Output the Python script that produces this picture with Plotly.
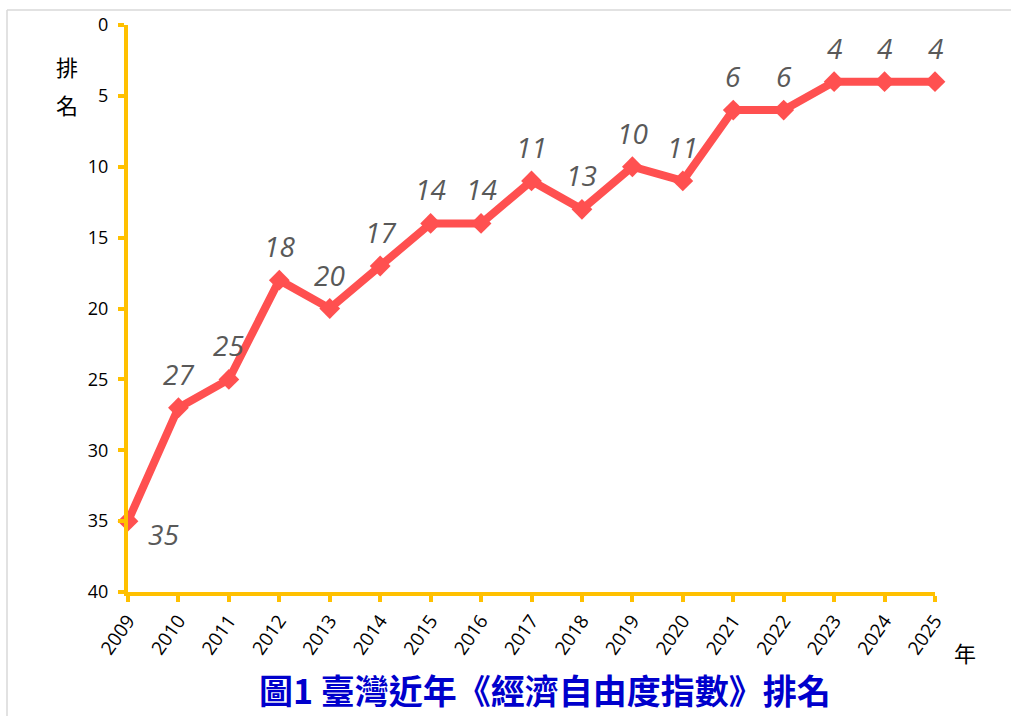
import plotly.graph_objects as go

years = [str(y) for y in range(2009, 2026)]
ranks = [35, 27, 25, 18, 20, 17, 14, 14, 11, 13, 10, 11, 6, 6, 4, 4, 4]
y_ticks = [0, 5, 10, 15, 20, 25, 30, 35, 40]

L, R, T, B = 128, 76, 25, 124
W, H = 1011, 716
pw, ph = W - L - R, H - T - B

def px(x):
    return (x - L) / pw

def py(y):
    return (H - B - y) / ph

fig = go.Figure()
fig.add_trace(go.Scatter(
    x=years, y=ranks, mode="lines+markers",
    line=dict(color="#FF5050", width=8),
    marker=dict(symbol="diamond", size=16, color="#FF5050"),
    cliponaxis=False, hoverinfo="skip", showlegend=False,
))

label_font = dict(family="Open Sans", size=28, color="#595959")
annotations = []
for i, r in enumerate(ranks):
    # category axis: annotation x given as the category's serial index
    if i == 0:
        annotations.append(dict(x=i, y=r, xref="x", yref="y", text="<i>%d</i>" % r,
                                showarrow=False, font=label_font,
                                xshift=35, yshift=-13, xanchor="center", yanchor="middle"))
    else:
        annotations.append(dict(x=i, y=r, xref="x", yref="y", text="<i>%d</i>" % r,
                                showarrow=False, font=label_font,
                                yshift=34, xanchor="center", yanchor="middle"))

axis_common = dict(showline=True, linecolor="#FFC000", linewidth=4,
                   ticks="outside", tickcolor="#FFC000", tickwidth=4, ticklen=6,
                   showgrid=False, zeroline=False)

annotations += [
    dict(text="排", xref="paper", yref="paper", x=px(67), y=py(66),
         showarrow=False, font=dict(family="Noto Sans CJK TC", size=22, color="#000000"),
         xanchor="center", yanchor="middle"),
    dict(text="名", xref="paper", yref="paper", x=px(67), y=py(104),
         showarrow=False, font=dict(family="Noto Sans CJK TC", size=22, color="#000000"),
         xanchor="center", yanchor="middle"),
    dict(text="年", xref="paper", yref="paper", x=px(965), y=py(652),
         showarrow=False, font=dict(family="Noto Sans CJK TC", size=22, color="#000000"),
         xanchor="center", yanchor="middle"),
    dict(text="<b>圖1 臺灣近年《經濟自由度指數》排名</b>", xref="paper", yref="paper",
         x=px(545), y=py(690), showarrow=False,
         font=dict(family="Noto Sans CJK TC", size=34, color="#0000CC"),
         xanchor="center", yanchor="middle"),
]

fig.update_layout(
    width=W, height=H,
    margin=dict(l=L, r=R, t=T, b=B),
    paper_bgcolor="white", plot_bgcolor="white",
    xaxis=dict(type="category", range=[0, len(years) - 1], tickangle=-55,
               tickfont=dict(family="Open Sans", size=19, color="#000000"), **axis_common),
    yaxis=dict(range=[40, 0], tickvals=y_ticks, ticklabelstandoff=6,
               tickfont=dict(family="Open Sans", size=18, color="#000000"), **axis_common),
    shapes=[
        dict(type="line", xref="paper", yref="paper", x0=px(7), x1=px(1015), y0=py(10), y1=py(10),
             line=dict(color="#D9D9D9", width=1.5)),
        dict(type="line", xref="paper", yref="paper", x0=px(7), x1=px(7), y0=py(10), y1=py(720),
             line=dict(color="#D9D9D9", width=1.5)),
    ],
    annotations=annotations,
)

fig.write_html("out.html", config={"displayModeBar": False},
               post_script="document.body.style.margin='0';document.body.style.overflow='hidden';")
